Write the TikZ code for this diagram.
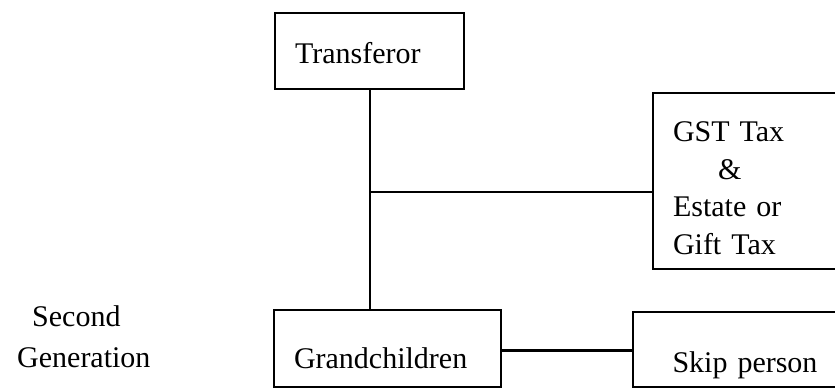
\documentclass[tikz,border=0pt]{standalone}
\usepackage{fontspec}
\setmainfont{Liberation Serif}
\begin{document}
\begin{tikzpicture}[x=1pt,y=-1pt,
  every node/.style={font=\fontsize{30}{37.5}\selectfont},
  box/.style={draw, line width=2.8pt, inner xsep=20pt, inner ysep=0pt, align=left},
  conn/.style={line width=2.8pt}]
\useasboundingbox (0,0) rectangle (835,389);
\clip (0,0) rectangle (835,389);
% boxes
\node[box, text width=149pt, minimum height=76pt, text height=24pt, text depth=0pt] (tr) at (369.5,51) {Transferor};
\node[box, text width=160pt, minimum height=176pt] (gst) at (753,181)
  {\rule{0pt}{34pt}GST Tax\\\hspace*{45pt}\&\\Estate or\\Gift Tax};
\node[box, text width=187pt, minimum height=77pt, text height=39pt, text depth=0pt] (gc) at (387.5,348.5) {Grandchildren};
\node[box, align=center, text width=184pt, minimum height=75pt, text height=45pt, text depth=0pt] (sk) at (745,349.5) {Skip person};
\node[anchor=north west, inner sep=0pt, align=left, font=\fontsize{30}{41}\selectfont] (gen) at (17,305.5) {\hspace*{15pt}Second\\Generation};
% connectors
\coordinate (j) at (370,192);
\coordinate (k) at (500,350.5);
\draw[conn] (tr.south -| j) -- (gc.north -| j);
\draw[conn] (j) -- (gst.west |- j);
\draw[conn] (gc.east |- k) -- (sk.west |- k);
\end{tikzpicture}
\end{document}
